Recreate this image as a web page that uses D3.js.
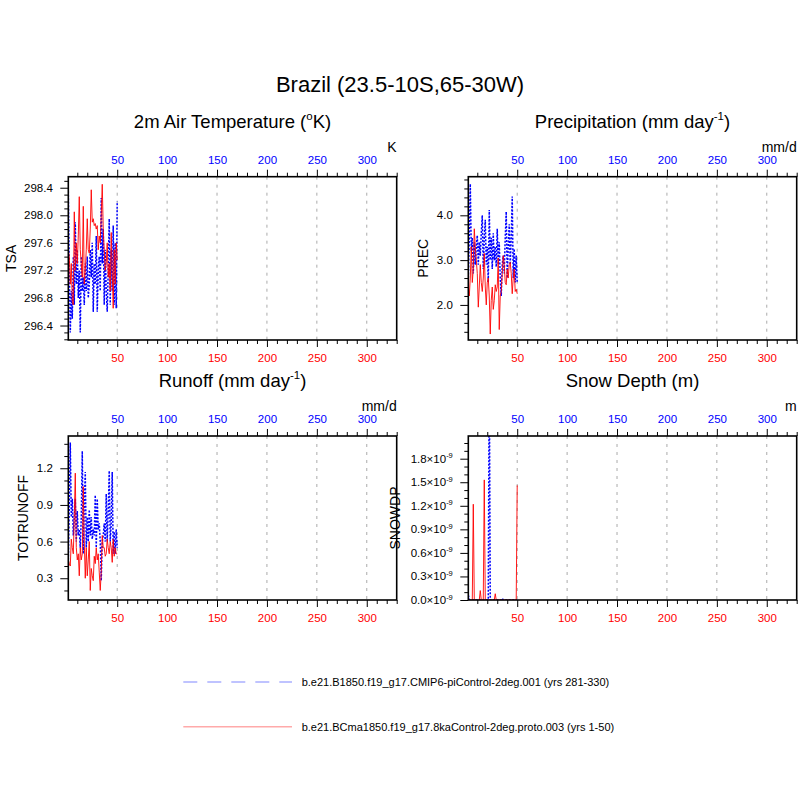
<!DOCTYPE html>
<html><head><meta charset="utf-8">
<script src="https://cdn.jsdelivr.net/npm/d3@7"></script>
<style>
body{margin:0;background:#fff}
svg{display:block}
text{font-family:"Liberation Sans",Arial,Helvetica,sans-serif;fill:#000}
</style>
</head><body>
<svg id="chart" width="800" height="800"></svg>
<script>
// ---------------- data ----------------
const years = d3.range(1, 51);               // model years 1..50
const xTickValues = [50, 100, 150, 200, 250, 300];
const mainTitle = "Brazil (23.5-10S,65-30W)";
const legendLabels = [
  "b.e21.B1850.f19_g17.CMIP6-piControl-2deg.001 (yrs 281-330)",
  "b.e21.BCma1850.f19_g17.8kaControl-2deg.proto.003 (yrs 1-50)"
];

const tsaBlue = [298.35,297.2,296.3,296.9,296.5,297.4,296.7,297.9,297.0,297.5,
  296.8,297.2,296.3,297.4,296.9,297.1,296.7,297.3,296.9,297.4,
  296.8,297.0,297.5,297.1,297.6,296.6,297.3,297.0,297.7,296.6,
  297.2,297.4,296.9,298.25,297.3,297.8,296.7,297.5,296.9,296.6,
  297.2,297.95,296.7,297.5,296.9,297.85,296.7,297.6,296.65,298.2];
const tsaRed = [297.5,297.4,297.0,297.3,296.75,296.7,298.05,297.2,297.6,297.3,
  297.7,298.27,297.5,297.3,297.1,298.13,297.0,297.2,297.5,297.95,
  297.5,297.45,297.8,298.37,297.9,297.95,297.85,297.88,297.8,297.85,
  297.5,297.7,297.6,298.0,298.45,297.8,297.5,297.2,297.3,297.6,
  297.1,297.3,296.9,297.75,297.2,296.65,297.5,297.0,297.6,297.35];

const precBlue = [2.6,3.5,4.7,3.2,3.5,2.7,3.4,2.9,3.3,3.55,
  2.9,3.4,3.1,3.6,4.0,2.8,3.5,3.9,2.9,3.3,
  2.5,4.12,3.0,3.5,2.8,3.6,3.0,3.3,2.85,3.7,
  2.9,3.4,2.6,2.2,2.9,3.1,2.7,3.5,4.08,2.6,
  3.3,3.8,2.9,3.5,4.42,2.6,3.25,2.5,3.1,2.5];
const precRed = [2.4,2.2,2.6,3.3,2.5,2.8,3.7,3.3,3.0,2.7,
  1.95,2.4,2.9,2.5,2.3,2.6,3.15,2.4,2.0,2.5,
  2.6,2.2,1.35,2.1,2.4,1.9,2.1,2.45,2.3,2.4,
  3.05,1.45,2.2,2.3,2.7,3.1,2.9,2.5,2.45,2.8,
  2.6,2.9,2.95,2.7,2.25,2.6,2.8,2.3,2.35,2.25];

const runBlue = [0.45,0.9,1.41,0.8,0.95,0.65,0.8,0.95,0.6,0.85,
  0.65,0.7,0.55,0.8,1.34,0.5,0.9,1.17,0.55,0.8,
  0.6,0.86,0.65,0.8,0.62,0.7,0.65,0.98,0.55,0.95,
  0.7,0.75,0.6,0.28,0.6,0.65,0.75,0.6,0.99,0.6,
  0.85,1.18,0.6,0.75,1.17,0.5,0.68,0.5,0.7,0.55];
const runRed = [0.45,0.42,0.4,0.62,0.55,0.5,0.8,1.16,0.55,0.45,
  0.5,0.32,0.55,0.45,0.5,1.05,0.6,0.3,0.55,0.32,
  0.45,0.6,0.2,0.38,0.32,0.28,0.48,0.42,0.55,0.45,
  0.5,0.35,0.2,0.35,0.65,0.55,0.55,0.48,0.5,0.62,
  0.55,0.5,0.6,0.55,0.43,0.62,0.48,0.55,0.5,0.5];

const snowBlue = [0.06e-9,0.01e-9,0,0,0,0,0,0,0,0,
  0,0,0,0,0,0,0,0,0,0,
  0,3.0e-9,0,0,0,0,0,0,0,0,
  0,0,0,0,0.02e-9,0,0,0,0,0,
  0,0,0,0,0,0,0,0,0,0];
const snowRed = [0,0,0,0,0,1.22e-9,0,0,0,0,
  0,0,0.12e-9,0,0,0,1.53e-9,0,0,0,
  0,0,0,0,0,0,0,0.08e-9,0,0,
  0,0,0,0,0,0,0,0,0,0,
  0,0,0,0,0,0,0,0,0,1.46e-9];

const tsaTicks = [296.4, 296.8, 297.2, 297.6, 298.0, 298.4];
const precTicks = [2.0, 3.0, 4.0];
const runTicks = [0.3, 0.6, 0.9, 1.2];
const snowTicks = [0, 0.3e-9, 0.6e-9, 0.9e-9, 1.2e-9, 1.5e-9, 1.8e-9];

// ---------------- layout ----------------
const svg = d3.select("#chart");
const W = 328.4;
const colLeft = [68.3, 468.3];
const rowTop = [176.7, 436];
const rowH = [163.3, 164];
const blue = "#0000ff", red = "#ff0000";

const panels = [
  {col:0,row:0,title:[["2m Air Temperature ("],["o",1],["K)"]],ylab:"TSA",unit:"K",
   dom:[296.19,298.56],ticks:tsaTicks,minor:0.1,fmt:d=>d.toFixed(1),blue:tsaBlue,red:tsaRed,labX:11},
  {col:1,row:0,title:[["Precipitation (mm day"],["-1",1],[")"]],ylab:"PREC",unit:"mm/d",
   dom:[1.217,4.862],ticks:precTicks,minor:0.2,fmt:d=>d.toFixed(1),blue:precBlue,red:precRed,labX:422.7},
  {col:0,row:1,title:[["Runoff (mm day"],["-1",1],[")"]],ylab:"TOTRUNOFF",unit:"mm/d",
   dom:[0.122,1.464],ticks:runTicks,minor:0.1,fmt:d=>d.toFixed(1),blue:runBlue,red:runRed,labX:22.7},
  {col:1,row:1,title:[["Snow Depth (m)"]],ylab:"SNOWDP",unit:"m",
   dom:[0,2.089e-9],ticks:snowTicks,minor:0.1e-9,sci:true,fmt:d=>(d*1e9).toFixed(1),blue:snowBlue,red:snowRed,labX:395}
];

// main title
svg.append("text").attr("x",400).attr("y",92).attr("text-anchor","middle")
  .attr("font-size",22).text(mainTitle);

function richText(sel, parts, size){
  parts.forEach(p=>{
    if(p[1]){
      sel.append("tspan").attr("font-size",size*0.62).attr("dy",-size*0.42).text(p[0]);
    } else {
      const t = sel.append("tspan").text(p[0]);
      if(sel.node().childNodes.length>1) t.attr("dy",size*0.42);
    }
  });
}

panels.forEach((p,i)=>{
  const L = colLeft[p.col], T = rowTop[p.row], H = rowH[p.row], R = L+W, B = T+H;
  const x = d3.scaleLinear().domain([1,330]).range([L,R]);
  const y = d3.scaleLinear().domain(p.dom).range([B,T]);
  const g = svg.append("g");

  // panel title
  const tt = g.append("text").attr("x",(L+R)/2).attr("y",T-49).attr("text-anchor","middle")
    .attr("font-size",18.5);
  richText(tt, p.title, 18.5);

  // grid lines
  g.append("g").selectAll("line").data(xTickValues).join("line")
    .attr("x1",d=>x(d)).attr("x2",d=>x(d)).attr("y1",T).attr("y2",B)
    .attr("stroke","#a0a0a0").attr("stroke-width",0.9).attr("stroke-dasharray","3,5");

  // x axes (bottom red, top blue)
  const minorX = d3.range(10,331,10).filter(v=>!xTickValues.includes(v));
  const bottomAxis = d3.axisBottom(x).tickValues(xTickValues).tickSize(7).tickPadding(7).tickFormat(d3.format("d"));
  const topAxis = d3.axisTop(x).tickValues(xTickValues).tickSize(7).tickPadding(6).tickFormat(d3.format("d"));
  const ba = g.append("g").attr("transform",`translate(0,${B})`).call(bottomAxis);
  const ta = g.append("g").attr("transform",`translate(0,${T})`).call(topAxis);
  [ba,ta].forEach(a=>{a.select(".domain").remove(); a.selectAll("text").attr("font-size",11.5)
     .attr("font-family","Liberation Sans, Arial, sans-serif");
     a.selectAll("line").attr("stroke","#000");});
  ba.selectAll("text").style("fill",red);
  ta.selectAll("text").style("fill",blue);
  const bm = d3.axisBottom(x).tickValues(minorX).tickSize(4).tickFormat("");
  const tm = d3.axisTop(x).tickValues(minorX).tickSize(4).tickFormat("");
  g.append("g").attr("transform",`translate(0,${B})`).call(bm).call(s=>s.select(".domain").remove());
  g.append("g").attr("transform",`translate(0,${T})`).call(tm).call(s=>s.select(".domain").remove());

  // y axis
  const ya = g.append("g").attr("transform",`translate(${L},0)`)
    .call(d3.axisLeft(y).tickValues(p.ticks).tickSize(8).tickPadding(7.5).tickFormat(""));
  ya.select(".domain").remove();
  const minorY = [];
  const n0 = Math.ceil(p.dom[0]/p.minor - 1e-6), n1 = Math.floor(p.dom[1]/p.minor + 1e-6);
  for(let k=n0;k<=n1;k++){
    const v = k*p.minor;
    if(!p.ticks.some(t=>Math.abs(t-v)<p.minor*0.01)) minorY.push(v);
  }
  g.append("g").attr("transform",`translate(${L},0)`)
    .call(d3.axisLeft(y).tickValues(minorY).tickSize(4).tickFormat(""))
    .call(s=>s.select(".domain").remove());
  // y tick labels
  const yl = g.append("g").selectAll("text").data(p.ticks).join("text")
    .attr("x",L-15.5).attr("y",d=>y(d)+4).attr("text-anchor","end").attr("font-size",11.5);
  if(p.sci){
    yl.each(function(d){
      const s = d3.select(this);
      s.append("tspan").text(p.fmt(d)+"\u00d710");
      s.append("tspan").attr("font-size",7.5).attr("dy",-4.5).text("-9");
    });
  } else {
    yl.text(d=>p.fmt(d));
  }

  // y label
  g.append("text").attr("transform",`translate(${p.labX+5},${(T+B)/2}) rotate(-90)`)
    .attr("text-anchor","middle").attr("font-size",14).text(p.ylab);

  // unit label
  g.append("text").attr("x",R).attr("y",T-25).attr("text-anchor","end")
    .attr("font-size",14).text(p.unit);

  // clip
  const cid = "clip"+i;
  svg.append("clipPath").attr("id",cid).append("rect")
    .attr("x",L).attr("y",T).attr("width",W).attr("height",H);
  const line = d3.line().x((d,j)=>x(years[j])).y(d=>y(d));
  const dg = g.append("g").attr("clip-path",`url(#${cid})`);
  dg.append("path").datum(p.blue).attr("d",line).attr("fill","none")
    .attr("stroke",blue).attr("stroke-width",1.5).attr("stroke-dasharray","2,1.5");
  dg.append("path").datum(p.red).attr("d",line).attr("fill","none")
    .attr("stroke",red).attr("stroke-width",0.9);

  // frame
  g.append("rect").attr("x",L).attr("y",T).attr("width",W).attr("height",H)
    .attr("fill","none").attr("stroke","#000").attr("stroke-width",1.6);
});

// legend
const lg = svg.append("g");
const legY = [682, 726.7];
const legStyles = [
  {stroke:"#aab0ff",dash:"14,10",w:1.6},
  {stroke:"#ffaaaa",dash:null,w:1.6}
];
legendLabels.forEach((lab,i)=>{
  const ln = lg.append("line").attr("x1",183.3).attr("x2",292).attr("y1",legY[i]).attr("y2",legY[i])
    .attr("stroke",legStyles[i].stroke).attr("stroke-width",legStyles[i].w);
  if(legStyles[i].dash) ln.attr("stroke-dasharray",legStyles[i].dash);
  lg.append("text").attr("x",301.7).attr("y",legY[i]+4).attr("font-size",11).text(lab);
});
</script>
</body></html>
